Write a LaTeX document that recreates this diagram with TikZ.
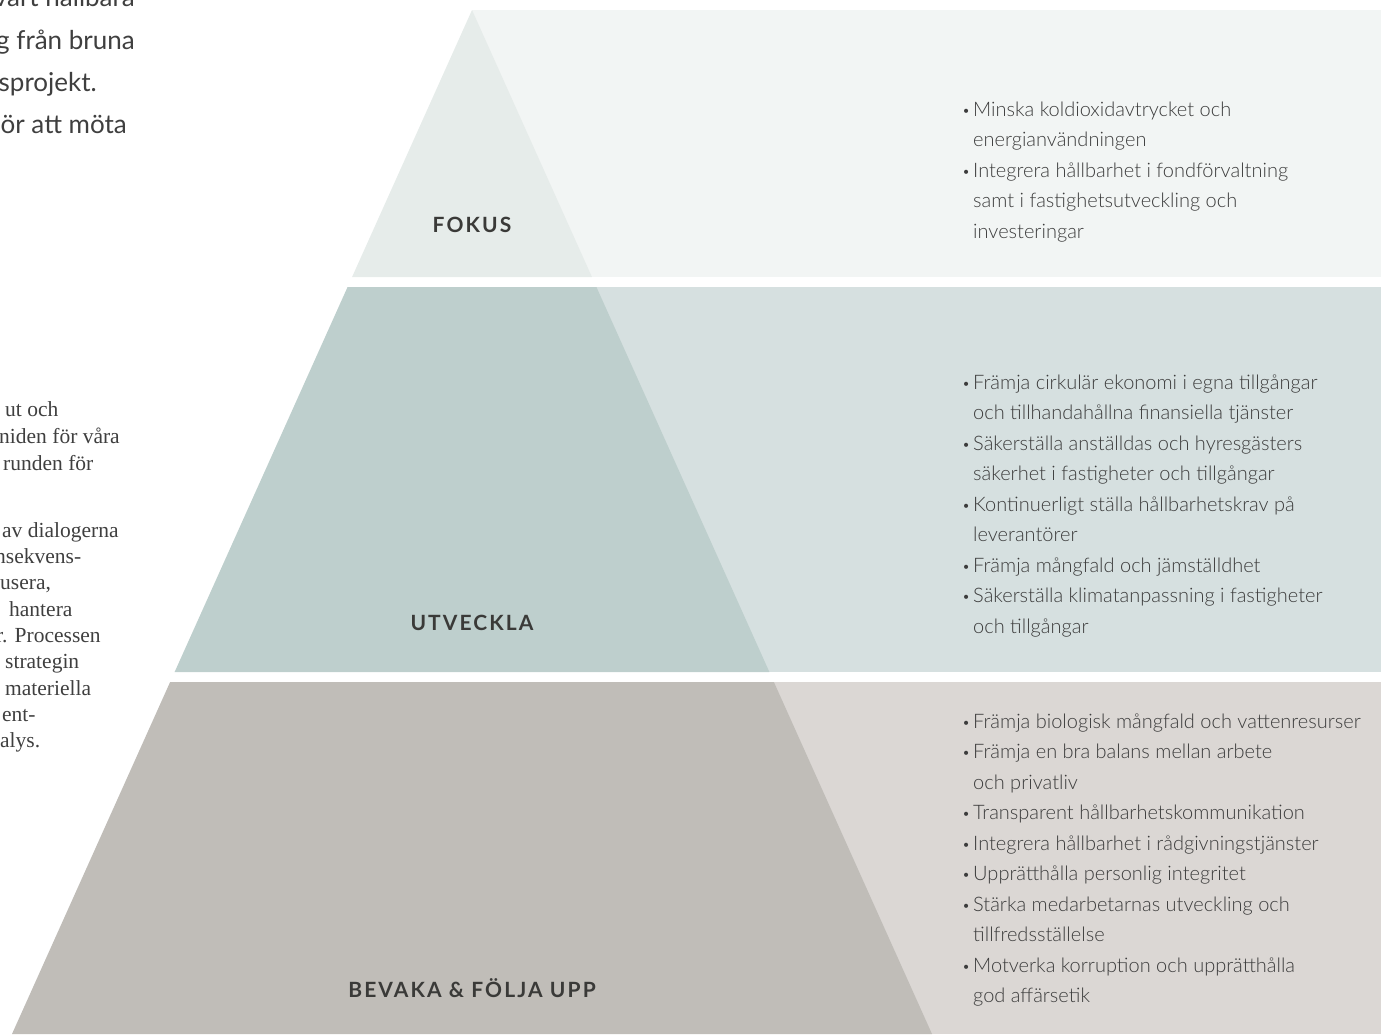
\documentclass[tikz,border=0pt]{standalone}
\usepackage{fontspec}
\newfontfamily\sansfont{Lato}
\IfFontExistsTF{Lato Light}{\newfontfamily\listfont{Lato Light}}{\newfontfamily\listfont{Lato}}
\newfontfamily\labelfont{Lato}[LetterSpace=10]
\newfontfamily\bodyfont{Liberation Serif}
\definecolor{fokusdark}{HTML}{E6ECEA}
\definecolor{fokuslight}{HTML}{F2F5F4}
\definecolor{utvdark}{HTML}{BECFCD}
\definecolor{utvlight}{HTML}{D6E0E0}
\definecolor{bevdark}{HTML}{C0BDB8}
\definecolor{bevlight}{HTML}{DBD7D4}
\definecolor{labeltext}{HTML}{3A3A38}
\definecolor{bodytext}{HTML}{3C3C3C}
\definecolor{introtext}{HTML}{3F3F3F}
\def\pyrslope{0.44922}
\def\pyrband[#1](#2:#3){\fill[#1] ({472-\pyrslope*(#2-10)},#2) -- ({472+\pyrslope*(#2-10)},#2) -- ({472+\pyrslope*(#3-10)},#3) -- ({472-\pyrslope*(#3-10)},#3) -- cycle;}
\newcommand{\bitem}{\makebox[11pt][l]{\raisebox{1pt}{\fontsize{14}{14}\selectfont\textbullet}}}
\tikzset{
  pyrlabel/.style={font=\labelfont\bfseries\fontsize{21}{21}\selectfont, text=labeltext, anchor=base, inner sep=0pt},
  pyrlist/.style={font=\listfont\fontsize{20}{30.5}\selectfont, text=bodytext, anchor=base west, inner sep=0pt},
  introline/.style={font=\sansfont\fontsize{26}{42}\selectfont, text=introtext, anchor=base east, inner sep=0pt},
  bodyline/.style={font=\bodyfont\fontsize{21.5}{26}\selectfont, text=introtext, anchor=base west, inner sep=0pt}
}

\begin{document}
\begin{tikzpicture}[x=1pt,y=-1pt]
	%%%%% START %%%%%
	\useasboundingbox (0,0) rectangle (1381,1034);
	\clip (0,0) rectangle (1381,1034);
	
	% light panels behind the pyramid
	\fill[fokuslight] (472,10) rectangle (1381,277);
	\fill[utvlight] (472,287) rectangle (1381,672);
	\fill[bevlight] (472,682) rectangle (1381,1034);
	
	% pyramid bands
	\pyrband[fokusdark](10:277)
	\pyrband[utvdark](287:672)
	\pyrband[bevdark](682:1034)
	
	\node[pyrlabel] (fokus) at (472,232) {FOKUS};
	\node[pyrlabel] (utveckla) at (472,630) {UTVECKLA};
	\node[pyrlabel] (bevaka) at (472,997) {BEVAKA \& FÖLJA UPP};
	
	\node[pyrlist] (fokuslist) at (962,116) {\begin{tabular}[t]{@{}l@{}l@{}}
		\bitem & Minska koldioxidavtrycket och\\
		& energianvändningen\\
		\bitem & Integrera hållbarhet i fondförvaltning\\
		& samt i fastighetsutveckling och\\
		& investeringar
	\end{tabular}};
	
	\node[pyrlist] (utvlist) at (962,389) {\begin{tabular}[t]{@{}l@{}l@{}}
		\bitem & Främja cirkulär ekonomi i egna tillgångar\\
		& och tillhandahållna finansiella tjänster\\
		\bitem & Säkerställa anställdas och hyresgästers\\
		& säkerhet i fastigheter och tillgångar\\
		\bitem & Kontinuerligt ställa hållbarhetskrav på\\
		& leverantörer\\
		\bitem & Främja mångfald och jämställdhet\\
		\bitem & Säkerställa klimatanpassning i fastigheter\\
		& och tillgångar
	\end{tabular}};
	
	\node[pyrlist] (bevlist) at (962,728) {\begin{tabular}[t]{@{}l@{}l@{}}
		\bitem & Främja biologisk mångfald och vattenresurser\\
		\bitem & Främja en bra balans mellan arbete\\
		& och privatliv\\
		\bitem & Transparent hållbarhetskommunikation\\
		\bitem & Integrera hållbarhet i rådgivningstjänster\\
		\bitem & Upprätthålla personlig integritet\\
		\bitem & Stärka medarbetarnas utveckling och\\
		& tillfredsställelse\\
		\bitem & Motverka korruption och upprätthålla\\
		& god affärsetik
	\end{tabular}};
	
	% cut-off intro text, top left
	\node[introline] (introa) at (135,6) {vårt hållbara};
	\node[introline] (introb) at (135,49) {g från bruna};
	\node[introline] (introc) at (97,91) {sprojekt.};
	\node[introline] (introd) at (127,133) {ör att möta};
	
	% cut-off body text, left
	\node[bodyline] (bodya) at (5,416) {ut och};
	\node[bodyline] (bodyb) at (-1,443) {niden för våra};
	\node[bodyline] (bodyc) at (3,470) {runden för};
	\node[bodyline] (bodyd) at (2,537) {av dialogerna};
	\node[bodyline] (bodye) at (-5,563) {nsekvens-};
	\node[bodyline] (bodyf) at (0,589) {usera,};
	\node[bodyline] (bodyg) at (9,616) {hantera};
	\node[bodyline] (bodyh) at (-4,642) {r. Processen};
	\node[bodyline] (bodyi) at (5,668) {strategin};
	\node[bodyline] (bodyj) at (5,695) {materiella};
	\node[bodyline] (bodyk) at (2,721) {ent-};
	\node[bodyline] (bodyl) at (0,747) {alys.};
	%%%%% END %%%%%
\end{tikzpicture}
\end{document}
